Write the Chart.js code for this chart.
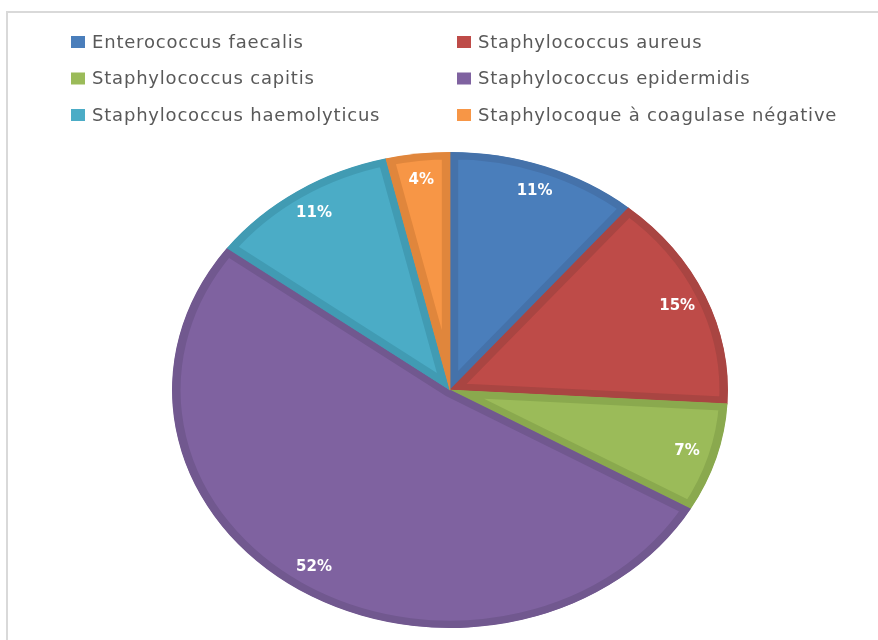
<!DOCTYPE html>
<html>
<head>
<meta charset="utf-8">
<script src="https://cdn.jsdelivr.net/npm/chart.js@4.4.1/dist/chart.umd.min.js"></script>
<style>
  html, body { margin: 0; padding: 0; background: #fff; }
  canvas { display: block; }
</style>
</head>
<body>
<canvas id="pie" width="878" height="640"></canvas>
<script>
const species = [
  "Enterococcus faecalis",
  "Staphylococcus aureus",
  "Staphylococcus capitis",
  "Staphylococcus epidermidis",
  "Staphylococcus haemolyticus",
  "Staphylocoque à coagulase négative"
]
const isolates = [3, 4, 2, 14, 3, 1]
const fills = ["#4a7ebb", "#be4b48", "#9bbb59", "#7f62a0", "#4bacc6", "#f79646"]
const edges = ["#4572aa", "#a94542", "#8aa94e", "#71588f", "#419bb3", "#e0863c"]

// the original pie is drawn as an ellipse, wider than tall
const SX = 1.168

const frame = {
  id: "frame",
  beforeDraw(chart) {
    const { ctx, width, height } = chart
    ctx.save()
    ctx.strokeStyle = "#d9d9d9"
    ctx.lineWidth = 2
    ctx.beginPath()
    ctx.moveTo(7, height)
    ctx.lineTo(7, 12)
    ctx.lineTo(width, 12)
    ctx.stroke()
    ctx.restore()
  }
}

const ellipse = {
  id: "ellipse",
  beforeDatasetsDraw(chart) {
    const { ctx } = chart
    const cx = chart.getDatasetMeta(0).data[0].x
    ctx.save()
    ctx.translate(cx, 0)
    ctx.scale(SX, 1)
    ctx.translate(-cx, 0)
  },
  afterDatasetsDraw(chart) {
    const { ctx } = chart
    ctx.restore()

    const total = isolates.reduce((a, b) => a + b, 0)
    ctx.save()
    ctx.font = "bold 15px 'DejaVu Sans'"
    ctx.fillStyle = "#fff"
    ctx.textAlign = "center"
    ctx.textBaseline = "middle"
    chart.getDatasetMeta(0).data.forEach((arc, i) => {
      const mid = (arc.startAngle + arc.endAngle) / 2
      const r = arc.outerRadius * 0.89
      const x = arc.x + Math.cos(mid) * r * SX
      const y = arc.y + Math.sin(mid) * r
      ctx.fillText(Math.round(isolates[i] / total * 100) + "%", x, y)
    })
    ctx.restore()
  }
}

const legendGrid = {
  id: "legendGrid",
  afterDraw(chart) {
    const { ctx } = chart
    ctx.save()
    ctx.font = "18px 'DejaVu Sans'"
    ctx.letterSpacing = "0.8px"
    ctx.textBaseline = "middle"
    species.forEach((name, i) => {
      const x = i % 2 ? 457 : 71
      const y = 42 + Math.floor(i / 2) * 36.5
      ctx.fillStyle = fills[i]
      ctx.fillRect(x, y - 6, 14, 12)
      ctx.fillStyle = "#595959"
      ctx.fillText(name, x + 21, y + 1)
    })
    ctx.restore()
  }
}

new Chart(document.getElementById("pie"), {
  type: "pie",
  data: {
    labels: species,
    datasets: [{
      data: isolates,
      backgroundColor: fills,
      borderColor: edges,
      borderWidth: 7,
      borderAlign: "inner"
    }]
  },
  options: {
    responsive: false,
    animation: false,
    events: [],
    radius: 238,
    layout: { padding: { top: 140, left: 22, right: 0, bottom: 0 } },
    plugins: { legend: { display: false }, tooltip: { enabled: false } }
  },
  plugins: [frame, ellipse, legendGrid]
})
</script>
</body>
</html>
